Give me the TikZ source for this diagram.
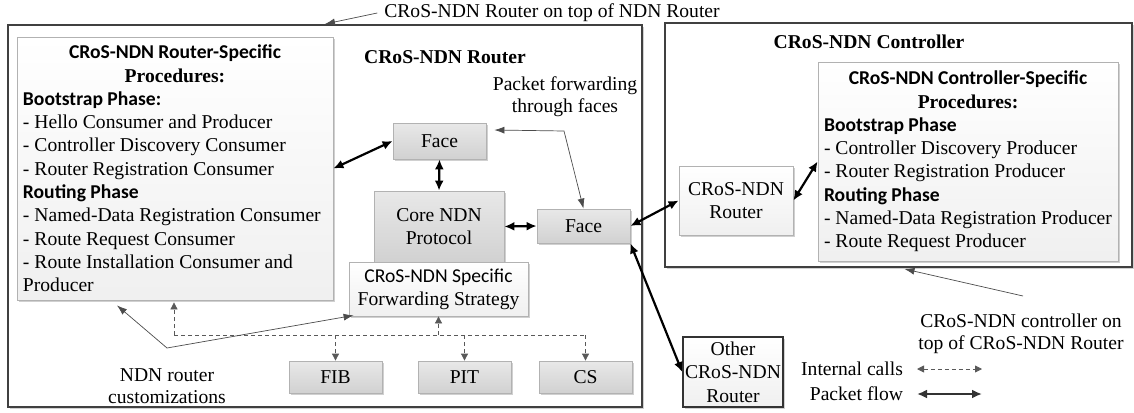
\documentclass[tikz,border=0pt]{standalone}
\usepackage{fontspec}
\setmainfont{Liberation Serif}
\newfontfamily\carlito{Carlito}
\usetikzlibrary{arrows.meta,shadows,calc}
\tikzset{pkttip/.tip={Latex[length=5pt,width=4.5pt]}}
\tikzset{notetip/.tip={Latex[length=5pt,width=3.5pt]}}
\tikzset{calltip/.tip={Triangle[length=3.5pt,width=3.5pt]}}
\tikzset{softshadow/.style={drop shadow={shadow xshift=0.8pt,shadow yshift=-0.8pt,fill=gray!60,opacity=0.6}}}
\tikzset{basic/.style={draw=gray!60,inner sep=2pt,align=center,font=\fontsize{9.8}{11.65}\selectfont,softshadow}}
\tikzset{frame/.style={draw=black!75,fill=white,line width=1pt,softshadow}}
\tikzset{block/.style={basic,top color=gray!18,bottom color=gray!36}}
\tikzset{plain/.style={basic,top color=white,bottom color=gray!12}}
\tikzset{proc/.style={plain,align=left}}
\tikzset{heading/.style={font=\bfseries\fontsize{9.8}{12}\selectfont}}
\tikzset{lbl/.style={font=\fontsize{9.8}{11}\selectfont,align=center}}
\tikzset{pkt/.style={draw,line width=1.1pt,pkttip-pkttip}}
\tikzset{call/.style={draw=gray!70!black,line width=0.4pt,dash pattern=on 2pt off 1.5pt,-calltip}}
\tikzset{note/.style={draw=gray!60!black,line width=0.35pt}}
\newcommand{\prochead}[2]{\makebox[#1]{#2}}

\begin{document}
\begin{tikzpicture}[x=0.5pt,y=-0.5pt]
    \useasboundingbox (0,0) rectangle (1134,412);

    % outer boxes
    \node[frame,minimum width=317pt,minimum height=191pt] (router) at (325,216) {};
    \node[frame,minimum width=233.5pt,minimum height=122pt] (ctrl) at (898.5,145) {};
    \node[heading] (rtitle) at (445,57) {CRoS-NDN Router};
    \node[heading] (ctitle) at (869,42) {CRoS-NDN Controller};

    % procedures
    \node[proc,minimum width=158pt,minimum height=131.5pt] (lproc) at (175,168.5) {%
        \prochead{152pt}{\carlito\bfseries CRoS-NDN Router-Specific}\\
        \prochead{152pt}{\bfseries Procedures:}\\
        {\carlito\bfseries Bootstrap Phase:}\\
        - Hello Consumer and Producer\\
        - Controller Discovery Consumer\\
        - Router Registration Consumer\\
        {\carlito\bfseries Routing Phase}\\
        - Named-Data Registration Consumer\\
        - Route Request Consumer\\
        - Route Installation Consumer and\\
        Producer};
    \node[proc,minimum width=150pt,minimum height=99.5pt] (rproc) at (968,161.5) {%
        \prochead{144pt}{\carlito\bfseries CRoS-NDN Controller-Specific}\\
        \prochead{144pt}{\bfseries Procedures:}\\
        {\carlito\bfseries Bootstrap Phase}\\
        - Controller Discovery Producer\\
        - Router Registration Producer\\
        {\carlito\bfseries Routing Phase}\\
        - Named-Data Registration Producer\\
        - Route Request Producer};

    % router internals
    \node[block,minimum width=46.5pt,minimum height=18pt] (face1) at (439.5,141) {Face};
    \node[block,minimum width=65pt,minimum height=35.5pt] (core) at (439,226.5) {Core NDN\\Protocol};
    \node[plain,minimum width=89.5pt,minimum height=27pt] (fwd) at (438.5,289) {{\carlito CRoS-NDN Specific}\\Forwarding Strategy};
    \node[block,minimum width=46.5pt,minimum height=17pt] (face2) at (583.5,226) {Face};
    \node[block,minimum width=46.5pt,minimum height=16pt] (fib) at (335.5,377) {FIB};
    \node[block,minimum width=46.5pt,minimum height=16pt] (pit) at (464.5,377) {PIT};
    \node[block,minimum width=46.5pt,minimum height=16pt] (cs) at (585.5,377) {CS};

    % other routers
    \node[plain,minimum width=57pt,minimum height=34.5pt] (crouter) at (736,200.5) {CRoS-NDN\\Router};
    \node[plain,draw=black!80,line width=0.8pt,inner sep=1pt,minimum width=50pt,minimum height=35pt] (other) at (733,372) {Other\\CRoS-NDN\\Router};

    % packet flow
    \path[pkt] (lproc.east) -- (face1.west);
    \path[pkt] (face1.south) -- (core.north);
    \path[pkt] (core.east) -- (face2.west);
    \path[pkt] (face2.east) -- (crouter.west);
    \path[pkt] (crouter.east) -- (rproc.west);
    \path[pkt] (face2.south east) -- (other.west);

    % internal calls
    \coordinate (busL) at (174,335);
    \coordinate (busR) at (cs.north |- busL);
    \path[call,-] (busL) -- (busR);
    \path[call] (busL) -- ($(busL |- lproc.south)+(0,2)$);
    \path[call] (fwd.south |- busL) -- (fwd.south);
    \path[call] (fib.north |- busL) -- (fib.north);
    \path[call] (pit.north |- busL) -- (pit.north);
    \path[call] (busR) -- (cs.north);

    % notes
    \node[lbl] (toplbl) at (552,13) {CRoS-NDN Router on top of NDN Router};
    \path[note,-notetip] (toplbl.west) -- (router.north);
    \node[lbl] (pktlbl) at (565,97) {Packet forwarding\\through faces};
    \coordinate (pktbend) at (564,131);
    \path[note,notetip-notetip] ($(face1.east)+(8,-11)$) -- (pktbend) -- (face2.north);
    \node[lbl] (custlbl) at (167,386) {NDN router\\customizations};
    \coordinate (custbend) at (167,348);
    \path[note,notetip-notetip] ($(lproc.south)+(-58,5)$) -- (custbend) -- ($(fwd.south west)+(5,-1)$);
    \node[lbl] (ctrllbl) at (1021,334) {CRoS-NDN controller on\\top of CRoS-NDN Router};
    \coordinate (ctrlbend) at (1023,296);
    \path[note,-notetip] (ctrlbend) -- ($(ctrl.south)+(6,1)$);

    % legend
    \node[lbl,anchor=east] (lgcall) at (910,369) {Internal calls};
    \node[lbl,anchor=east] (lgpkt) at (910,394) {Packet flow};
    \coordinate (lgcallA) at (917,369);
    \coordinate (lgcallB) at (982,369);
    \coordinate (lgpktA) at (917,394);
    \coordinate (lgpktB) at (982,394);
    \path[call,calltip-calltip] (lgcallA) -- (lgcallB);
    \path[pkt,draw=gray!40!black] (lgpktA) -- (lgpktB);
\end{tikzpicture}
\end{document}
